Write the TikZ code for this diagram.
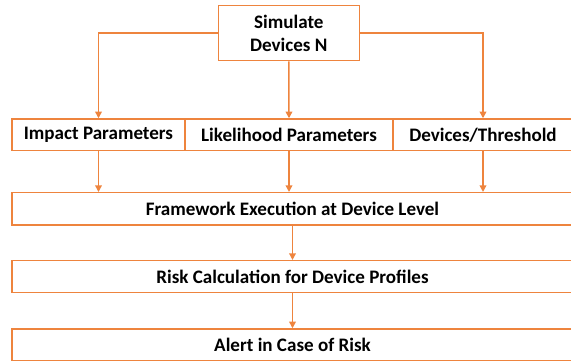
\documentclass[tikz,border=0pt]{standalone}
\usepackage{fontspec}
\setmainfont{Carlito}
\usetikzlibrary{arrows.meta}

\definecolor{flowOrange}{RGB}{238,132,62}

\tikzset{every picture/.style={line width=0.75pt}}
\tikzset{
	stepbox/.style={draw=flowOrange, line width=1.1pt, fill=white, inner sep=0pt, align=center, font=\bfseries\fontsize{14.3}{17.2}\selectfont},
	flowarrow/.style={draw=flowOrange, line width=1.1pt, -{Triangle[length=5pt,width=5pt]}}
}

\begin{document}
\begin{tikzpicture}[x=0.75pt,y=0.75pt,yscale=-1,xscale=1]
	\useasboundingbox (0,0) rectangle (571,361);
	
	%Top box
	\node [stepbox, minimum width=105.75pt, minimum height=41.25pt] (simulate) at (288.8,33.2) {Simulate\\Devices N};
	
	%Parameter row
	\node [stepbox, minimum width=129.75pt, minimum height=23.8pt] (impact) at (98.5,134.85) {Impact Parameters};
	\node [stepbox, minimum width=156pt, minimum height=23.8pt] (likelihood) at (289,134.85) {Likelihood Parameters};
	\node [stepbox, minimum width=135pt, minimum height=23.8pt] (threshold) at (483,134.85) {Devices/Threshold};
	
	%Full width boxes
	\node [stepbox, minimum width=420.75pt, minimum height=24.2pt] (framework) at (292.5,208.85) {Framework Execution at Device Level};
	\node [stepbox, minimum width=420.75pt, minimum height=24pt] (risk) at (292.5,276.7) {Risk Calculation for Device Profiles};
	\node [stepbox, minimum width=420.75pt, minimum height=23.8pt] (alert) at (292.5,344.85) {Alert in Case of Risk};
	
	%Arrows from top box
	\draw [flowarrow] (simulate.west) -| (impact.north);
	\draw [flowarrow] (simulate.south) -- (likelihood.north);
	\draw [flowarrow] (simulate.east) -| (threshold.north);
	
	%Arrows into framework
	\draw [flowarrow] (impact.south) -- (impact.south |- framework.north);
	\draw [flowarrow] (likelihood.south) -- (likelihood.south |- framework.north);
	\draw [flowarrow] (threshold.south) -- (threshold.south |- framework.north);
	
	%Arrows down the column
	\draw [flowarrow] (framework.south) -- (risk.north);
	\draw [flowarrow] (risk.south) -- (alert.north);
	
\end{tikzpicture}
\end{document}
